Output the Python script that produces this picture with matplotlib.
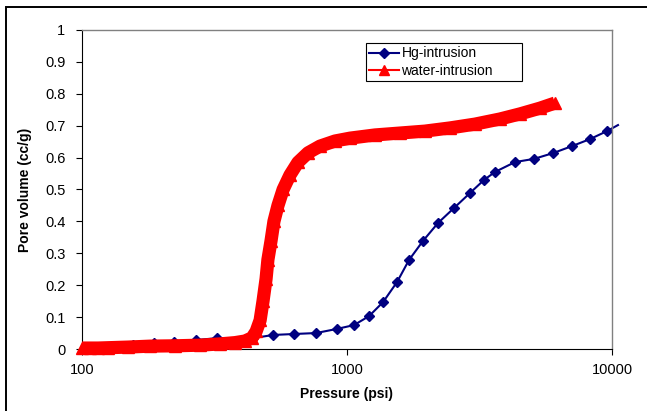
import matplotlib
matplotlib.use('Agg')
import matplotlib.pyplot as plt
from matplotlib.ticker import FuncFormatter, NullLocator
from matplotlib.lines import Line2D
from matplotlib.patches import Rectangle

# data
hg_pressure = [110, 132, 156, 187, 222, 269, 323, 442, 526, 631, 764, 917, 1063, 1211,
               1368, 1545, 1714, 1936, 2205, 2534, 2912, 3289, 3618, 4306, 5078, 5989,
               7063, 8260, 9572, 10535]
hg_volume = [0.006, 0.006, 0.013, 0.019, 0.022, 0.028, 0.034, 0.034, 0.044, 0.047, 0.050,
             0.063, 0.075, 0.103, 0.147, 0.210, 0.279, 0.339, 0.395, 0.442, 0.489, 0.530,
             0.555, 0.586, 0.596, 0.614, 0.636, 0.658, 0.683, 0.702]

water_pressure = [100, 107, 115, 125, 149, 181, 224, 279, 332, 378, 412, 438, 454, 470,
                  482, 495, 503, 517, 530, 549, 574, 609, 653, 713, 791, 901, 1027, 1276,
                  1585, 1968, 2448, 3042, 3777, 4496, 5348, 6095]
water_volume = [0.003, 0.003, 0.003, 0.004, 0.006, 0.009, 0.010, 0.012, 0.016, 0.020,
                0.025, 0.035, 0.055, 0.090, 0.150, 0.220, 0.280, 0.340, 0.400, 0.450,
                0.500, 0.545, 0.585, 0.615, 0.636, 0.652, 0.661, 0.671, 0.677, 0.683,
                0.693, 0.705, 0.721, 0.737, 0.755, 0.771]

x_ticks = [100, 1000, 10000]
y_ticks = [i / 10 for i in range(11)]

plt.rcParams['font.family'] = ['Liberation Sans', 'DejaVu Sans']

fig = plt.figure(figsize=(6.47, 4.11), dpi=100)
ax = fig.add_axes([82 / 647, 1 - 349 / 411, 530 / 647, 319 / 411])

# Hg curve, last point only gives the line running past the axis
ax.plot(hg_pressure, hg_volume, color='#000080', lw=1.5, marker='D', ms=5.5,
        markevery=list(range(len(hg_pressure) - 1)), clip_on=False, zorder=2)

# water curve: dense markers in the original, drawn as a thick band
ax.plot(water_pressure, water_volume, color='#ff0000', lw=9.5, solid_joinstyle='round',
        solid_capstyle='butt', clip_on=False, zorder=3)
ax.plot(water_pressure, water_volume, color='#ff0000', lw=1.5, marker='^', ms=8.5,
        clip_on=False, zorder=3)

ax.set_xscale('log')
ax.set_xlim(100, 10000)
ax.set_ylim(0, 1)
ax.set_xticks(x_ticks)
ax.xaxis.set_minor_locator(NullLocator())
ax.xaxis.set_major_formatter(FuncFormatter(lambda v, p: f'{v:.0f}'))
ax.set_yticks(y_ticks)
ax.yaxis.set_major_formatter(FuncFormatter(lambda v, p: f'{v:g}'))

ax.tick_params(direction='out', length=4, width=0.8, labelsize=10.5, color='black')
ax.tick_params(axis='x', pad=6)
ax.tick_params(axis='y', pad=8)

for side in ['left', 'bottom']:
    ax.spines[side].set_color('black')
    ax.spines[side].set_linewidth(0.8)
for side in ['top', 'right']:
    ax.spines[side].set_color('#808080')
    ax.spines[side].set_linewidth(1)

ax.set_xlabel('Pressure (psi)', fontsize=10, fontweight='bold')
ax.xaxis.set_label_coords(0.5, -0.12)
ax.set_ylabel('Pore volume (cc/g)', fontsize=10, fontweight='bold')
ax.yaxis.set_label_coords(-0.095, 0.5)

handles = [Line2D([], [], color='#000080', lw=1.5, marker='D', ms=5.5),
           Line2D([], [], color='#ff0000', lw=1.5, marker='^', ms=7)]
leg = ax.legend(handles, ['Hg-intrusion', 'water-intrusion'], loc='upper left',
                bbox_to_anchor=(366 / 647, 1 - 43 / 411, 156 / 647, 0),
                bbox_transform=fig.transFigure, mode='expand', fontsize=10,
                numpoints=1, fancybox=False, edgecolor='black', framealpha=1,
                borderpad=0.25, labelspacing=0.25, handlelength=2.1,
                handletextpad=0.2, borderaxespad=0)
leg.get_frame().set_linewidth(0.8)

# outer chart border (only left and top show in the crop)
fig.add_artist(Rectangle((6 / 647, -0.05), 1.0, 1.05 - 7 / 411, transform=fig.transFigure,
                         fill=False, edgecolor='black', lw=1.4))

fig.savefig('out.png', dpi=100)
